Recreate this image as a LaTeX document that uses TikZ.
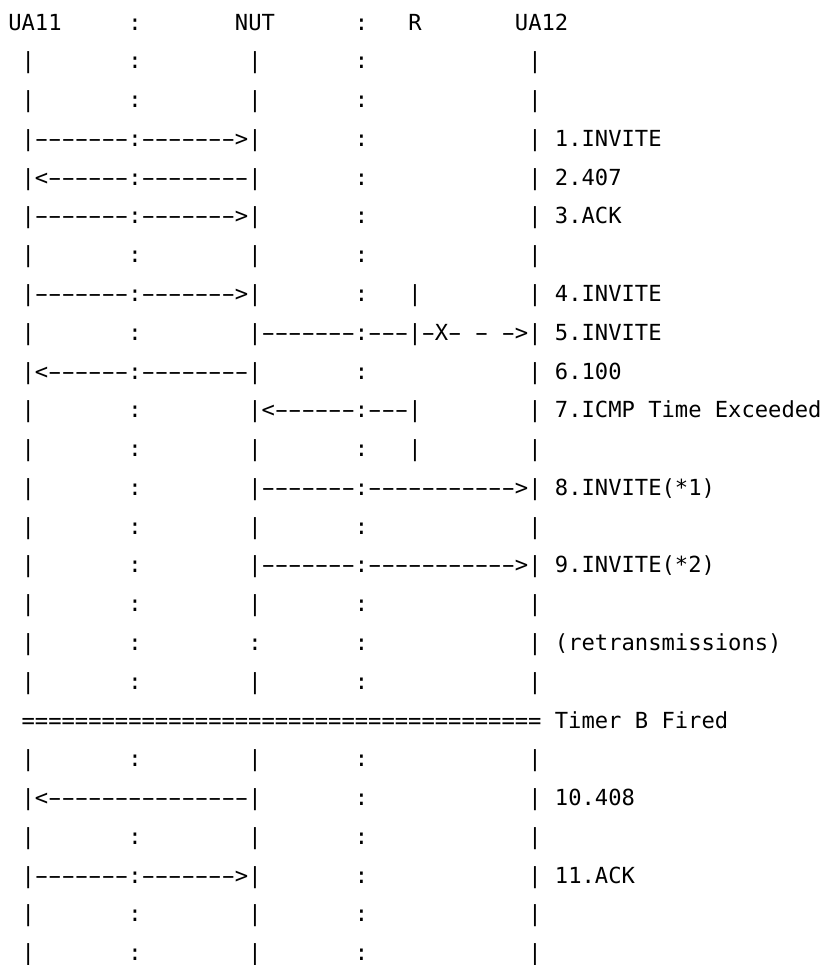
\documentclass[tikz,border=0pt]{standalone}
\usepackage{fontspec}
\usepackage{graphicx}
\newfontfamily\asciifont{DejaVu Sans Mono}

% one hyphen cell, one run of hyphens, one run of spaces
\newcommand{\dsh}{\makebox[\fontcharwd\font`0][c]{\scalebox{1.8}[1]{-}}}
\newcommand{\dshs}[1]{\foreach \n in {1,...,#1}{\dsh}}
\newcommand{\sps}[1]{\foreach \n in {1,...,#1}{~}}
\newcommand{\lifelines}{~|\sps{7}:\sps{8}|\sps{7}:\sps{12}|}

\tikzset{asciirow/.style={anchor=base west, inner sep=0pt, font=\asciifont\fontsize{16.61pt}{29pt}\selectfont}}

\begin{document}
\begin{tikzpicture}[x=0.75pt, y=-0.75pt]
    \path[use as bounding box, fill=white] (0,0) rectangle (824,965);
    \node[asciirow] (heads) at (8,30.00) {UA11\sps{5}:\sps{7}NUT\sps{6}:\sps{3}R\sps{7}UA12};
    \node[asciirow] (s1) at (8,68.78) {\lifelines};
    \node[asciirow] (s2) at (8,107.56) {\lifelines};
    \node[asciirow] (m1) at (8,146.34) {~|\dshs{7}:\dshs{7}>|\sps{7}:\sps{12}|~1.INVITE};
    \node[asciirow] (m2) at (8,185.12) {~|<\dshs{6}:\dshs{8}|\sps{7}:\sps{12}|~2.407};
    \node[asciirow] (m3) at (8,223.90) {~|\dshs{7}:\dshs{7}>|\sps{7}:\sps{12}|~3.ACK};
    \node[asciirow] (s3) at (8,262.68) {\lifelines};
    \node[asciirow] (m4) at (8,301.46) {~|\dshs{7}:\dshs{7}>|\sps{7}:\sps{3}|\sps{8}|~4.INVITE};
    \node[asciirow] (m5) at (8,340.24) {~|\sps{7}:\sps{8}|\dshs{7}:\dshs{3}|\dsh X\dsh~\dsh~\dsh>|~5.INVITE};
    \node[asciirow] (m6) at (8,379.02) {~|<\dshs{6}:\dshs{8}|\sps{7}:\sps{12}|~6.100};
    \node[asciirow] (m7) at (8,417.80) {~|\sps{7}:\sps{8}|<\dshs{6}:\dshs{3}|\sps{8}|~7.ICMP Time Exceeded};
    \node[asciirow] (s4) at (8,456.58) {~|\sps{7}:\sps{8}|\sps{7}:\sps{3}|\sps{8}|};
    \node[asciirow] (m8) at (8,495.36) {~|\sps{7}:\sps{8}|\dshs{7}:\dshs{11}>|~8.INVITE(*1)};
    \node[asciirow] (s5) at (8,534.14) {\lifelines};
    \node[asciirow] (m9) at (8,572.92) {~|\sps{7}:\sps{8}|\dshs{7}:\dshs{11}>|~9.INVITE(*2)};
    \node[asciirow] (s6) at (8,611.70) {\lifelines};
    \node[asciirow] (retx) at (8,650.48) {~|\sps{7}:\sps{8}:\sps{7}:\sps{12}|~(retransmissions)};
    \node[asciirow] (s7) at (8,689.26) {\lifelines};
    \node[asciirow] (timer) at (8,728.04) {~\foreach \n in {1,...,39}{=}~Timer B Fired};
    \node[asciirow] (s8) at (8,766.82) {\lifelines};
    \node[asciirow] (m10) at (8,805.60) {~|<\dshs{15}|\sps{7}:\sps{12}|~10.408};
    \node[asciirow] (s9) at (8,844.38) {\lifelines};
    \node[asciirow] (m11) at (8,883.16) {~|\dshs{7}:\dshs{7}>|\sps{7}:\sps{12}|~11.ACK};
    \node[asciirow] (s10) at (8,921.94) {\lifelines};
    \node[asciirow] (s11) at (8,960.72) {\lifelines};
\end{tikzpicture}
\end{document}
